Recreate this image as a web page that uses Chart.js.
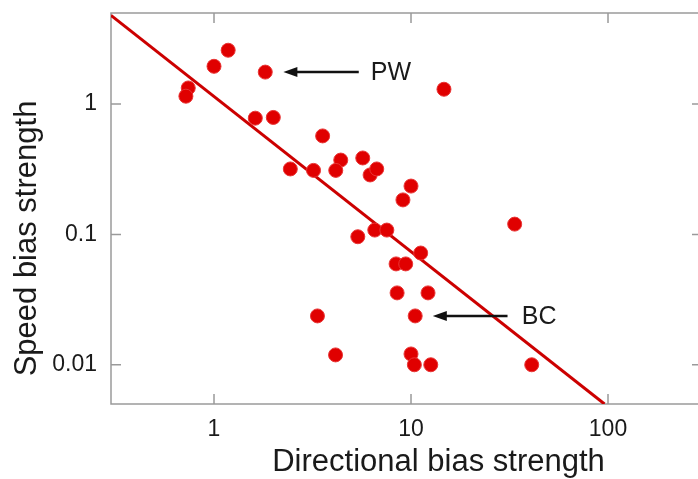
<!DOCTYPE html>
<html>
<head>
<meta charset="utf-8">
<script src="https://cdn.jsdelivr.net/npm/chart.js@4.4.1/dist/chart.umd.min.js"></script>
<style>
  html, body { margin: 0; padding: 0; background: #fff; overflow: hidden; }
  #wrap { width: 698px; height: 479px; overflow: hidden; }
  canvas { display: block; }
</style>
</head>
<body>
<div id="wrap"><canvas id="biasChart" width="710" height="479"></canvas></div>
<script>
// directional bias (x) vs speed bias (y)
const dirBias = [1.18, 1.0, 1.82, 0.74, 0.72, 14.7, 1.62, 2.0, 3.56, 2.44, 3.2, 4.4,
                 4.15, 5.69, 6.2, 6.7, 10.0, 9.1, 33.6, 5.37, 6.55, 7.54, 11.2, 8.4,
                 9.4, 8.5, 12.2, 3.35, 10.5, 4.14, 10.0, 10.4, 12.6, 41.0];
const speedBias = [2.59, 1.95, 1.76, 1.33, 1.15, 1.30, 0.78, 0.79, 0.57, 0.318, 0.31, 0.372,
                   0.31, 0.386, 0.286, 0.318, 0.235, 0.184, 0.12, 0.096, 0.108, 0.108, 0.072, 0.0594,
                   0.0594, 0.0356, 0.0356, 0.0237, 0.0237, 0.0119, 0.0121, 0.01, 0.01, 0.01];

// fitted power-law line end points
const fitX = [0.3, 96];
const fitY = [4.8, 0.005];

const xTicks = [1, 10, 100];
const yTicks = [0.01, 0.1, 1];

const xTitle = 'Directional bias strength';
const yTitle = 'Speed bias strength';

// labelled points: arrow head, arrow tail, label start
const callouts = [
    { text: "PW", y: 1.76, head: 2.25, tail: 5.43, labelX: 6.25 },
    { text: "BC", y: 0.0237, head: 12.9, tail: 30.9, labelX: 36.5 },
];

const points = dirBias.map((v, i) => ({ x: v, y: speedBias[i] }));
const fitLine = fitX.map((v, i) => ({ x: v, y: fitY[i] }));

const FONT = "'Liberation Sans', Arial, Helvetica, sans-serif";
const FRAME = "#9a9a9a";
const INK = "#1a1a1a";

const framePlugin = {
    id: 'frame',
    beforeDatasetsDraw(chart) {
        const { ctx, chartArea: a, scales } = chart;
        ctx.save();
        ctx.strokeStyle = FRAME;
        ctx.lineWidth = 1.5;
        // left, top and bottom edges; the right edge falls outside the picture
        ctx.beginPath();
        ctx.moveTo(a.right + 2, a.top); ctx.lineTo(a.left, a.top);
        ctx.lineTo(a.left, a.bottom); ctx.lineTo(a.right + 2, a.bottom);
        xTicks.forEach(t => {
            const px = scales.x.getPixelForValue(t);
            ctx.moveTo(px, a.bottom); ctx.lineTo(px, a.bottom - 10);
            ctx.moveTo(px, a.top); ctx.lineTo(px, a.top + 10);
        });
        yTicks.forEach(t => {
            const py = scales.y.getPixelForValue(t);
            ctx.moveTo(a.left, py); ctx.lineTo(a.left + 10, py);
            ctx.moveTo(a.right, py); ctx.lineTo(a.right - 10, py);
        });
        ctx.stroke();

        // axis titles (sit a little right of / below the plot centre, as in the figure)
        ctx.fillStyle = INK;
        ctx.font = "31px " + FONT;
        ctx.textAlign = "center";
        ctx.textBaseline = "middle";
        ctx.fillText(xTitle, (a.left + a.right) / 2 + 32, a.bottom + 58);
        ctx.translate(27, (a.top + a.bottom) / 2 + 30);
        ctx.rotate(-Math.PI / 2);
        ctx.fillText(yTitle, 0, 0);
        ctx.restore();
    },
    afterDatasetsDraw(chart) {
        const { ctx, scales } = chart;
        ctx.save();
        ctx.strokeStyle = "#111";
        ctx.lineWidth = 2.5;
        callouts.forEach(c => {
            const py = scales.y.getPixelForValue(c.y);
            const hx = scales.x.getPixelForValue(c.head);
            const tx = scales.x.getPixelForValue(c.tail);
            ctx.beginPath();
            ctx.moveTo(tx, py); ctx.lineTo(hx + 8, py);
            ctx.stroke();
            ctx.fillStyle = "#111";
            ctx.beginPath();
            ctx.moveTo(hx, py);
            ctx.lineTo(hx + 14, py - 5);
            ctx.lineTo(hx + 14, py + 5);
            ctx.closePath();
            ctx.fill();
            ctx.font = "25px " + FONT;
            ctx.textBaseline = "middle";
            ctx.textAlign = "left";
            ctx.fillStyle = INK;
            ctx.fillText(c.text, scales.x.getPixelForValue(c.labelX), py + 1);
        });
        ctx.restore();
    }
};

const ctx = document.getElementById('biasChart').getContext('2d');

const biasChart = new Chart(ctx, {
    type: 'scatter',
    data: {
        datasets: [{
            type: 'line',
            data: fitLine,
            borderColor: '#cc0000',
            borderWidth: 3,
            pointRadius: 0,
            fill: false,
            order: 2,
        },
        {
            data: points,
            backgroundColor: '#e00000',
            borderColor: '#e83535',
            borderWidth: 1,
            pointRadius: 7,
            order: 1,
        }]
    },
    options: {
        responsive: false,
        animation: false,
        devicePixelRatio: 1,
        layout: { padding: { top: 13, right: 6, left: 0, bottom: 0 } },
        plugins: {
            legend: { display: false },
            tooltip: { enabled: false },
        },
        scales: {
            x: {
                type: 'logarithmic',
                min: 0.3,
                max: 300,
                afterBuildTicks: (s) => { s.ticks = xTicks.map(v => ({ value: v })); },
                afterFit: (s) => { s.height = 75; s.paddingLeft = 0; s.paddingRight = 0; },
                grid: { display: false, drawTicks: false },
                border: { display: false },
                ticks: {
                    color: INK,
                    font: { family: FONT, size: 23 },
                    padding: 12,
                    maxRotation: 0,
                    callback: (v) => String(v),
                },
            },
            y: {
                type: 'logarithmic',
                min: 0.005,
                max: 5,
                afterBuildTicks: (s) => { s.ticks = yTicks.map(v => ({ value: v })); },
                afterFit: (s) => { s.width = 111; s.paddingTop = 0; s.paddingBottom = 0; },
                grid: { display: false, drawTicks: false },
                border: { display: false },
                ticks: {
                    color: INK,
                    font: { family: FONT, size: 23 },
                    padding: 14,
                    callback: (v) => String(v),
                },
            }
        }
    },
    plugins: [framePlugin],
});
</script>
</body>
</html>
